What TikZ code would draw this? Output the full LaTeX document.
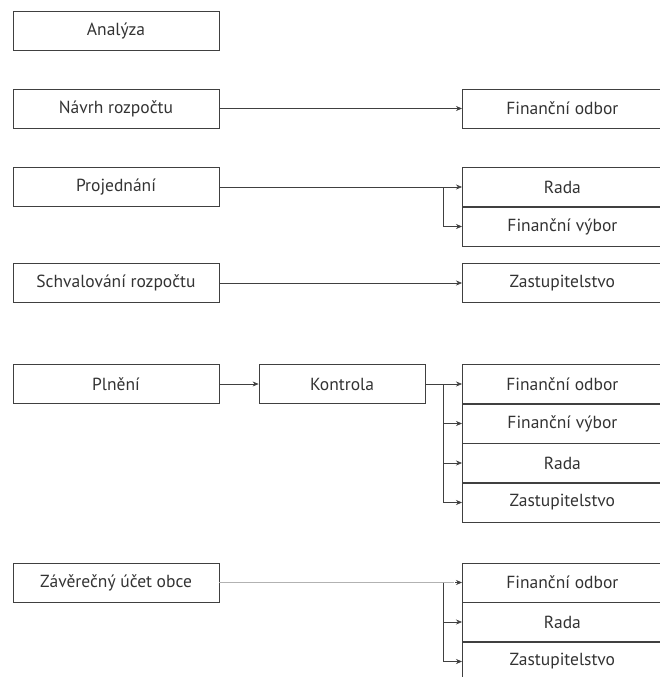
\documentclass[tikz,border=0pt]{standalone}
\usepackage{fontspec}
\setmainfont{PT Sans}
\usetikzlibrary{arrows.meta,positioning}

\begin{document}
\begin{tikzpicture}
			[x=1pt, y=-1pt,
			 step box/.style={draw=black!75, line width=0.8pt, minimum width=206pt, minimum height=39pt, inner sep=0pt, font=\fontsize{17.5}{19}\selectfont, text=black!80},
			 organ/.style={step box, anchor=west, minimum width=200pt},
			 link/.style={-{Stealth[length=6pt,width=5pt]}, draw=black!75, line width=0.6pt},]
			\useasboundingbox (0,0) rectangle (660,677);
			% kroky vlevo
			\node[step box] (analyza) at (116,31) {Analýza};
			\node[step box] (navrh) at (116,108.5) {Návrh rozpočtu};
			\node[step box] (projed) at (116,187) {Projednání};
			\node[step box] (schval) at (116,283) {Schvalování rozpočtu};
			\node[step box] (plneni) at (116,384) {Plnění};
			\node[step box, minimum width=166pt] (kontrola) at (342,384) {Kontrola};
			\node[step box] (zaver) at (116,582.5) {Závěrečný účet obce};
			% organy vpravo
			\node[organ] (fo1) at (462,108.5) {Finanční odbor};
			\node[organ] (rada1) at (462,187) {Rada};
			\node[organ] (fv1) at (462,226.5) {Finanční výbor};
			\node[organ] (zast1) at (462,283) {Zastupitelstvo};
			\node[organ] (fo2) at (462,384) {Finanční odbor};
			\node[organ] (fv2) at (462,423.5) {Finanční výbor};
			\node[organ] (rada2) at (462,463) {Rada};
			\node[organ] (zast2) at (462,502.5) {Zastupitelstvo};
			\node[organ] (fo3) at (462,582.5) {Finanční odbor};
			\node[organ] (rada3) at (462,622) {Rada};
			\node[organ] (zast3) at (462,661.5) {Zastupitelstvo};
			% spojnice
			\draw[link] (navrh.east) -- (fo1.west);
			\draw[link] (projed.east) -- (rada1.west);
			\draw[link] ([xshift=-19pt]rada1.west) |- (fv1.west);
			\draw[link] (schval.east) -- (zast1.west);
			\draw[link] (plneni.east) -- (kontrola.west);
			\draw[link] (kontrola.east) -- (fo2.west);
			\draw[link] ([xshift=-19pt]fo2.west) |- (fv2.west);
			\draw[link] ([xshift=-19pt]fo2.west) |- (rada2.west);
			\draw[link] ([xshift=-19pt]fo2.west) |- (zast2.west);
			\draw[draw=black!30, line width=0.6pt] (zaver.east) -- ([xshift=-8pt]fo3.west);
			\draw[link] ([xshift=-7pt]fo3.west) -- (fo3.west);
			\draw[link] ([xshift=-19pt]fo3.west) |- (rada3.west);
			\draw[link] ([xshift=-19pt]fo3.west) |- (zast3.west);
			\end{tikzpicture}
\end{document}
